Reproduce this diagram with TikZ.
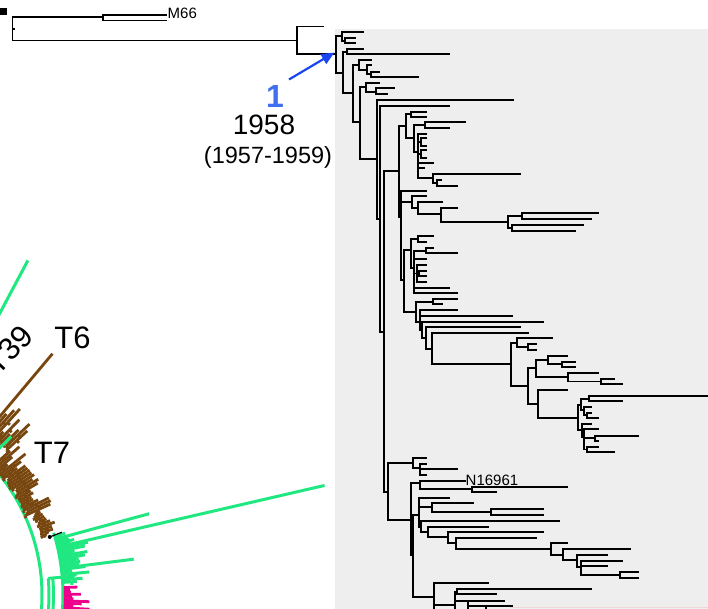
\documentclass[tikz,border=0pt]{standalone}
\usepackage{fontspec}
\setmainfont{Liberation Sans}
\usetikzlibrary{arrows.meta}
\definecolor{bgray}{RGB}{238,238,238}
\definecolor{sgreen}{RGB}{32,232,128}
\definecolor{tbrown}{RGB}{120,70,15}
\definecolor{arrblue}{RGB}{25,70,240}
\definecolor{numblue}{RGB}{64,112,240}
\definecolor{pinkl}{RGB}{240,215,215}
\begin{document}
\begin{tikzpicture}[x=1pt,y=-1pt,
  tr/.style={line width=1.3pt,line cap=rect,black},
  gr/.style={line width=3pt,sgreen},
  br/.style={line width=2.8pt,tbrown},
  mg/.style={line width=2.8pt,magenta},
  lab/.style={inner sep=0pt}]
\useasboundingbox (0,0) rectangle (708,609);
\fill[bgray] (335,29) rectangle (708,609);
\fill[black] (0,8) rectangle (7.3,15);
% ---------- tree: horizontal segments y/x0/x1
\foreach \y/\a/\b in {17/12.7/103, 40.7/12.7/297, 15/103/166, 20.7/103/166, 26.7/297/323, 54/297/336, 29/12.7/14.5,
 36/336/342, 32/342/363, 41/342/345, 38/345/355, 43/345/355,
 73/336/343, 52/343/347, 49/347/363, 54/347/449,
 93/343/353, 65/353/359, 60/359/371, 70/359/367, 65/367/371, 74/367/371, 72/371/379, 77/371/418,
 122/353/360, 87/360/366, 83/366/379, 92/366/376, 88/376/394, 94/376/387,
 159/360/377, 100/377/513, 219/377/380, 106/380/449, 332/380/384,
 171/384/399, 126/399/406, 114/406/411, 112/411/426, 117/411/426, 138/406/414, 125/414/425, 122/425/465, 128/425/449, 152/414/418,
 134/418/426, 142/418/421, 138/421/426, 146/421/426, 154/418/421, 150/421/426, 158/421/426, 163/418/433, 168/418/424, 178/418/433, 174/433/520, 183/433/437, 180/437/441, 186/437/457,
 217/399/401, 191/401/426, 202/401/412, 196/412/426, 208/412/418, 202/418/442, 214/418/441, 208/441/457, 222/441/508, 216/508/522, 213/522/598, 219/522/591, 228/508/512, 225/512/583, 231/512/575,
 280/401/404, 250/404/411, 239/411/418, 236/418/433, 242/418/426, 268/411/414, 251/414/426, 248/426/433, 253/426/457, 259/414/426, 265/417/426, 273.5/414/419, 271/419/426, 276/419/426, 282/417/426, 288/414/449, 293/414/457,
 312/404/416, 302/416/433, 299/433/457, 304/433/442, 322/416/420, 310/420/457, 316/420/512, 330/420/422, 322/422/543, 338/422/426, 327/426/520, 349/426/432, 333/432/528, 364/432/511,
 343/511/517, 338/517/552, 347/517/528, 344/528/536, 350/528/536, 386/511/528, 368/528/536, 360/536/548, 356/548/567, 364/548/562, 362/562/575, 367/562/575, 377/536/568, 373/568/598, 381.5/568/601, 379/601/614, 384/601/622,
 404/528/538, 390/538/567, 418/538/578, 405/578/581, 399/581/589, 396/589/708, 401/589/622, 410/581/584, 407/584/591, 415/584/587, 413/587/591, 418/587/598, 430/578/582, 424/582/591, 437/582/584, 429/584/598, 438/584/595, 436/595/638, 441/595/598, 449.5/584/587, 447/587/598, 452/587/614,
 492/384/388, 463/388/413, 458/413/426, 468/413/420, 464/420/426, 469/420/457, 475/420/426, 520/388/411, 483/411/420, 481/420/465, 489/420/472, 487/472/567, 492/472/496, 555/411/413, 515/413/419, 498/419/449, 507/419/432, 503/432/473, 512/432/491, 509/491/543, 515/491/543, 527/419/421, 521/421/559, 532/421/428, 527/428/488, 537/428/448, 532/448/543, 543/448/456, 538/456/536, 549/456/551, 543/551/567, 555/551/563, 549/563/630, 560/563/577, 555/577/607, 567/577/581, 561/581/622, 566/581/607, 575/581/620, 572/620/638, 578/620/638,
 597/413/434, 583/434/488, 605/434/455, 591.5/455/457, 589/457/591, 594/457/496, 601/455/468, 601/468/504, 606/468/486, 606/486/512}
 \draw[tr] (\a,\y) -- (\b,\y);
% ---------- tree: vertical segments x/y0/y1
\foreach \x/\a/\b in {12.7/17/40.7, 103/15/20.7, 297/26.7/54,
 336/36/73, 342/32/41, 345/38/43, 343/52/93, 347/49/54, 353/65/122, 359/60/70, 367/65/74, 371/72/77,
 360/87/159, 366/83/92, 376/88/94, 377/100/219, 380/106/332, 384/171/492,
 399/126/217, 406/114/138, 411/112/117, 414/125/152, 425/122/128, 418/134/178, 421/138/146, 421/150/158, 433/174/183, 437/180/186,
 401/191/280, 412/196/208, 418/202/214, 441/208/222, 508/216/228, 522/213/219, 512/225/231,
 404/250/312, 411/239/268, 418/236/242, 414/251/293, 426/248/253, 417/265/282, 419/271/276,
 416/302/322, 433/299/304, 420/310/330, 422/322/338, 426/327/349, 432/333/364,
 511/343/386, 517/338/347, 528/344/350, 528/368/404, 536/360/377, 548/356/364, 562/362/367, 568/373/381.5, 601/379/384,
 538/390/418, 578/405/430, 581/399/410, 589/396/401, 584/407/415, 587/413/418, 582/424/437, 584/429/449.5, 595/436/441, 587/447/452,
 388/463/520, 413/458/468, 420/464/475, 411/483/555, 420/481/489, 472/487/492, 413/515/597, 419/498/527, 432/503/512, 491/509/515, 421/521/532, 428/527/537, 448/532/543, 456/538/549, 551/543/555, 563/549/560, 577/555/567, 581/561/575, 620/572/578,
 434/583/609, 455/591.5/609, 457/589/594, 468/601/609, 486/606/609}
 \draw[tr] (\x,\a) -- (\x,\b);
\draw[pinkl,line width=1.5pt] (510,607.5) -- (708,607.5);
% ---------- labels
\node[lab,anchor=base west,font=\fontsize{15}{18}\selectfont] (m66) at (167.5,18.5) {M66};
\node[lab,anchor=base west,font=\fontsize{15}{18}\selectfont] (n16961) at (465.5,485.5) {N16961};
\node[lab,anchor=base,font=\fontsize{32}{36}\selectfont\bfseries,text=numblue] (one) at (275,108) {1};
\node[lab,anchor=base,font=\fontsize{28}{32}\selectfont] (yr) at (264,135) {1958};
\node[lab,anchor=base,font=\fontsize{23.5}{27}\selectfont] (range) at (268,163.5) {(1957-1959)};
\coordinate (atail) at (289,79.5);
\coordinate (ahead) at (334.5,52.5);
\draw[arrblue,line width=2.2pt,-{Triangle[length=13pt,width=11pt]}] (atail) -- (ahead);
% ---------- radial tree fragment
\begin{scope}[shift={(-150,595)}]
 \draw[gr] (-46:192) arc[start angle=-46,end angle=8,radius=192];
 \draw[gr] (-4.8:199) arc[start angle=-4.8,end angle=8,radius=199];
 \draw[gr] (-4.8:203.5) arc[start angle=-4.8,end angle=8,radius=203.5];
 \draw[gr] (-4.8:199) -- (-4.8:213);
 \draw[gr] (-17:213) arc[start angle=-17,end angle=8,radius=213];
 \draw[gr] (-62:290) -- (-62:379);
 \draw[br] (-50:225) -- (-50:315);
 \pgfmathsetseed{5}
 \foreach \a in {-50,-49.2,...,-16.5}{
   \pgfmathsetmacro\rb{ifthenelse(\a<-42,213+3*rnd,ifthenelse(\a<-24,192+5*rnd,199+4*rnd))}
   \pgfmathsetmacro\rt{\rb+ifthenelse(\a<-42,8+30*rnd,ifthenelse(\a<-24,10+24*rnd,4+12*rnd))}
   \pgfmathsetmacro\rm{(\rb+\rt)/2}
   \pgfmathsetmacro\ae{\a+0.8}
   \draw[br] (\a:\rb) -- (\a:\rt);
   \draw[br] (\a:\rb) arc[start angle=\a,end angle=\ae,radius=\rb];
   \draw[br] (\a:\rm) arc[start angle=\a,end angle=\ae,radius=\rm];
 }
 \draw[gr] (-44.5:207) -- (-44.5:226);
 \foreach \a in {-16,-15.3,...,-3}{
   \pgfmathsetmacro\rt{219+rnd*34}
   \pgfmathsetmacro\rm{214+rnd*12}
   \pgfmathsetmacro\ae{\a+0.8}
   \draw[gr] (\a:213) -- (\a:\rt);
   \draw[gr] (\a:\rm) arc[start angle=\a,end angle=\ae,radius=\rm];
 }
 \draw[gr] (-13:213) -- (-13:487);
 \draw[gr] (-15.2:213) -- (-15.2:310);
 \draw[gr] (-7.2:213) -- (-7.2:286);
 \foreach \a in {-2,-1.4,...,4.5}{
   \pgfmathsetmacro\rt{219+rnd*22}
   \draw[mg] (\a:214) -- (\a:\rt);
 }
 \fill[black] (-16.2:208) circle (2);
 \draw[black,line width=1.2pt] (-16.2:208) -- (-16.5:221);
\end{scope}
\node[lab,font=\fontsize{31}{36}\selectfont] (t6) at (72.5,338) {T6};
\node[lab,font=\fontsize{31}{36}\selectfont] (t7) at (52,452.5) {T7};
\node[lab,font=\fontsize{31}{36}\selectfont,rotate=47] (t39) at (9,350) {T39};
\end{tikzpicture}
\end{document}
